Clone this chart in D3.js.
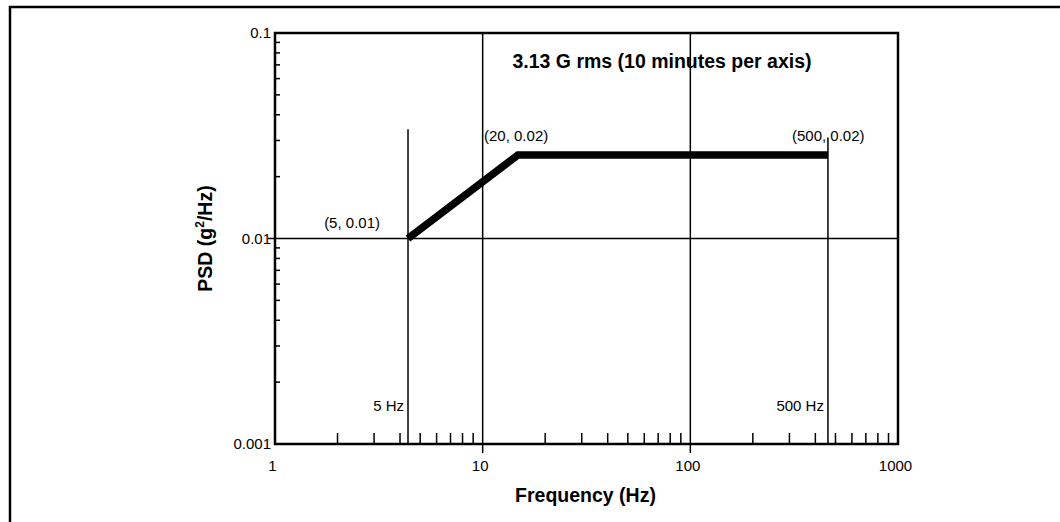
<!DOCTYPE html>
<meta charset="utf-8">
<style>
body { margin: 0; background: #fff; }
svg { font-family: "Liberation Sans", Arial, sans-serif; }
.grid { stroke: #000; stroke-width: 1.5px; }
.line { fill: none; stroke: #000; stroke-width: 7.5px; stroke-linejoin: miter; }
.axis path, .axis line { display: none; }
.axis text { font-size: 15px; fill: #000; }
.note { font-size: 15px; fill: #000; }
.title { font-size: 19.5px; font-weight: bold; fill: #000; }
</style>
<svg id="psd" width="1060" height="522"></svg>
<script src="https://cdnjs.cloudflare.com/ajax/libs/d3/7.8.5/d3.min.js"></script>
<script>
// profile as drawn (labels quote the nominal values)
var freq = [4.37, 14.8, 460];
var psd = [0.01, 0.0255, 0.0255];
var pointLabels = ["(5, 0.01)", "(20, 0.02)", "(500, 0.02)"];
var markerFreq = [4.37, 460];
var markerTop = [0.034, 0.031];
var markerLabels = ["5 Hz", "500 Hz"];
var xTicks = [1, 10, 100, 1000];
var yTicks = [0.001, 0.01, 0.1];
var xGrid = [10, 100];
var yGrid = [0.01];

var w = 1060,
    h = 522;
var margin = {top: 33, right: 162, bottom: 78, left: 275},
    width = w - margin.left - margin.right,
    height = h - margin.top - margin.bottom;

var svg = d3.select("#psd");

// outer frame, open at right and bottom
svg.append("rect")
    .attr("x", 10).attr("y", 7)
    .attr("width", 1200).attr("height", 700)
    .attr("fill", "none").attr("stroke", "#000").attr("stroke-width", 2.5);

var g = svg.append("g").attr("transform", "translate(" + margin.left + "," + margin.top + ")");

var x = d3.scaleLog().domain([1, 1000]).range([0, width]);
var y = d3.scaleLog().domain([0.001, 0.1]).range([height, 0]);

// minor ticks
var xMinor = x.ticks().filter(function(d) { return xTicks.indexOf(d) < 0; });
var yMinor = y.ticks().filter(function(d) { return yTicks.indexOf(d) < 0 && d < 0.1; });

g.selectAll(".xminor").data(xMinor).enter().append("line")
    .attr("class", "grid")
    .attr("x1", function(d) { return x(d); }).attr("x2", function(d) { return x(d); })
    .attr("y1", height).attr("y2", height - 11);
g.selectAll(".yminor").data(yMinor).enter().append("line")
    .attr("class", "grid")
    .attr("y1", function(d) { return y(d); }).attr("y2", function(d) { return y(d); })
    .attr("x1", 0).attr("x2", 5);

// grid lines
g.selectAll(".xgrid").data(xGrid).enter().append("line")
    .attr("class", "grid")
    .attr("x1", function(d) { return x(d); }).attr("x2", function(d) { return x(d); })
    .attr("y1", 0).attr("y2", height + 9);
g.selectAll(".ygrid").data(yGrid).enter().append("line")
    .attr("class", "grid")
    .attr("y1", function(d) { return y(d); }).attr("y2", function(d) { return y(d); })
    .attr("x1", -7).attr("x2", width);

// plot box
g.append("rect")
    .attr("width", width).attr("height", height)
    .attr("fill", "none").attr("stroke", "#000").attr("stroke-width", 2.5);

// axes labels
g.append("g")
    .attr("class", "axis")
    .attr("transform", "translate(0," + height + ")")
    .call(d3.axisBottom(x).tickValues(xTicks).tickSize(0).tickPadding(16).tickFormat(d3.format("")))
  .selectAll("text")
    .attr("dx", -3);
g.append("g")
    .attr("class", "axis")
    .call(d3.axisLeft(y).tickValues(yTicks).tickSize(0).tickPadding(4).tickFormat(function(d) { return String(d); }));

// frequency markers
g.selectAll(".marker").data(markerFreq).enter().append("line")
    .attr("class", "grid")
    .attr("x1", function(d) { return x(d); }).attr("x2", function(d) { return x(d); })
    .attr("y1", function(d, i) { return y(markerTop[i]); }).attr("y2", height);
g.selectAll(".mlabel").data(markerLabels).enter().append("text")
    .attr("class", "note")
    .attr("text-anchor", "end")
    .attr("x", function(d, i) { return x(markerFreq[i]) - 4; })
    .attr("y", height - 33)
    .text(function(d) { return d; });

// profile
var line = d3.line()
    .x(function(d, i) { return x(freq[i]); })
    .y(function(d) { return y(d); });
g.append("path")
    .datum(psd)
    .attr("class", "line")
    .attr("d", line);

var labelOffset = [[-28, -11], [-34, -14], [-36, -14]];
g.selectAll(".plabel").data(pointLabels).enter().append("text")
    .attr("class", "note")
    .attr("text-anchor", function(d, i) { return i == 0 ? "end" : "start"; })
    .attr("x", function(d, i) { return x(freq[i]) + labelOffset[i][0]; })
    .attr("y", function(d, i) { return y(psd[i]) + labelOffset[i][1]; })
    .text(function(d) { return d; });

// titles
g.append("text")
    .attr("class", "title")
    .attr("text-anchor", "middle")
    .attr("x", 387).attr("y", 35)
    .text("3.13 G rms (10 minutes per axis)");

g.append("text")
    .attr("class", "title")
    .attr("text-anchor", "middle")
    .attr("x", width / 2 - 1).attr("y", height + 58)
    .text("Frequency (Hz)");

var yl = g.append("text")
    .attr("class", "title")
    .attr("text-anchor", "middle")
    .attr("transform", "translate(-63," + y(0.01) + ") rotate(-90)");
yl.append("tspan").text("PSD (g");
yl.append("tspan").attr("font-size", "12px").attr("dy", "-8").text("2");
yl.append("tspan").attr("dy", "8").text("/Hz)");
</script>
